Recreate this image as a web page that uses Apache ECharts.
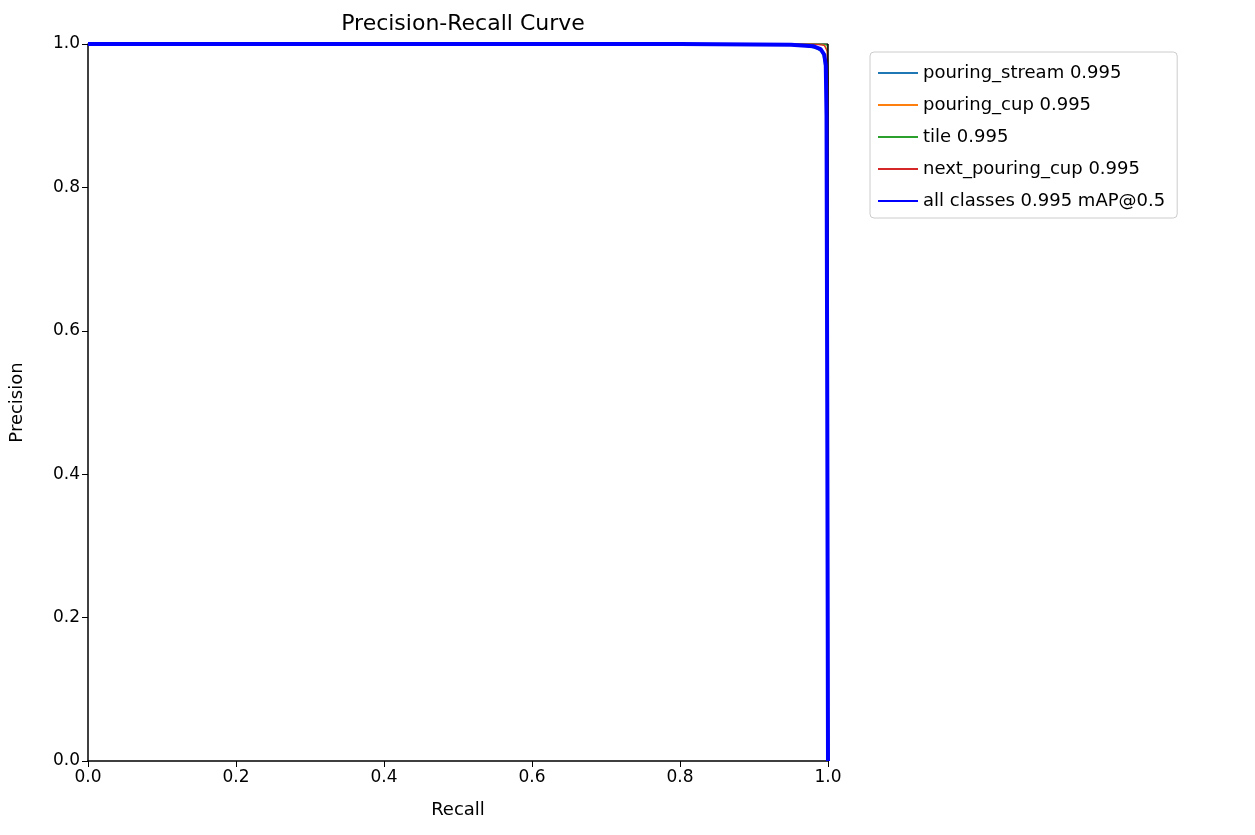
<!DOCTYPE html>
<html>
<head>
<meta charset="utf-8">
<script src="https://cdn.jsdelivr.net/npm/echarts@6/dist/echarts.min.js"></script>
<style>body{margin:0;background:#fff}#c{width:1255px;height:835px}</style>
</head>
<body>
<div id="c"></div>
<script>
// recall / precision points
const recallStream = [0, 0.2, 0.5, 0.8, 0.96, 0.975, 0.985, 0.99, 0.993, 0.995, 0.997, 1.0, 1.0];
const precStream   = [1, 1, 1, 1, 0.998, 0.996, 0.993, 0.99, 0.985, 0.975, 0.95, 0.5, 0];
const recallCup = [0, 0.5, 0.99, 0.996, 0.999, 1.0, 1.0];
const precCup   = [1, 1, 1, 0.998, 0.99, 0.9, 0];
const recallTile = [0, 0.5, 0.995, 0.999, 1.0, 1.0];
const precTile   = [1, 1, 1, 0.998, 0.95, 0];
const recallNext = [0, 0.5, 0.98, 0.995, 0.999, 1.0, 1.0];
const precNext   = [1, 1, 1, 0.998, 0.99, 0.95, 0];
const recallAll = [0, 0.2, 0.5, 0.8, 0.95, 0.98, 0.99, 0.995, 0.997, 0.998, 0.999, 1.0];
const precAll   = [1, 1, 1, 1, 0.999, 0.997, 0.993, 0.985, 0.97, 0.9, 0.5, 0];
const xTicks = [0, 0.2, 0.4, 0.6, 0.8, 1.0];

const names = ['pouring_stream 0.995', 'pouring_cup 0.995', 'tile 0.995', 'next_pouring_cup 0.995', 'all classes 0.995 mAP@0.5'];
const colors = ['#1f77b4', '#ff7f0e', '#2ca02c', '#d62728', '#0000ff'];
const zip = (a, b) => a.map((v, i) => [v, b[i]]);
const sets = [[recallStream, precStream], [recallCup, precCup], [recallTile, precTile], [recallNext, precNext], [recallAll, precAll]];

const chart = echarts.init(document.getElementById('c'));
const font = 'DejaVu Sans';
chart.setOption({
  animation: false,
  textStyle: { fontFamily: font },
  title: { text: 'Precision-Recall Curve', left: 458, top: 8, textAlign: 'center',
    textStyle: { fontFamily: font, fontSize: 22, fontWeight: 'normal', color: '#000' } },
  grid: { left: 88, top: 44, width: 740, height: 717 },
  legend: {
    orient: 'vertical', left: 870, top: 52, itemWidth: 40, itemHeight: 2, itemGap: 14,
    borderColor: '#ccc', borderWidth: 1, borderRadius: 4, padding: [12, 12, 8, 8],
    textStyle: { fontFamily: font, fontSize: 18, color: '#000' },
    data: names.map((n, i) => ({ name: n, icon: 'rect', itemStyle: { color: colors[i] } }))
  },
  xAxis: {
    type: 'value', min: 0, max: 1, interval: 0.2, name: 'Recall', nameLocation: 'middle', nameGap: 40,
    nameTextStyle: { fontFamily: font, fontSize: 18, color: '#000' },
    axisLine: { lineStyle: { color: '#000', width: 1.5 } },
    axisTick: { show: true, length: 6, inside: false, lineStyle: { color: '#000' } },
    axisLabel: { fontSize: 17, color: '#000', formatter: v => v.toFixed(1) },
    splitLine: { show: false }
  },
  yAxis: {
    type: 'value', min: 0, max: 1, interval: 0.2, name: 'Precision', nameLocation: 'middle', nameGap: 62,
    nameTextStyle: { fontFamily: font, fontSize: 18, color: '#000' },
    axisLine: { show: true, lineStyle: { color: '#000', width: 1.5 } },
    axisTick: { show: true, length: 6, lineStyle: { color: '#000' } },
    axisLabel: { fontSize: 17, color: '#000', formatter: v => v.toFixed(1) },
    splitLine: { show: false }
  },
  series: sets.map((s, i) => ({
    name: names[i], type: 'line', showSymbol: false, symbol: 'none',
    data: zip(s[0], s[1]), z: i === 4 ? 10 : 2,
    lineStyle: { color: colors[i], width: i === 4 ? 4 : 1.2 },
    itemStyle: { color: colors[i] }
  })).concat([{
    type: 'line', silent: true, symbol: 'none', data: [[0, 1], [1, 1]],
    lineStyle: { color: '#000', width: 1.5 }, z: 1,
    markLine: { silent: true, symbol: 'none', label: { show: false },
      lineStyle: { color: '#000', width: 1.5, type: 'solid' }, data: [{ xAxis: 1 }] }
  }])
});
</script>
</body>
</html>
